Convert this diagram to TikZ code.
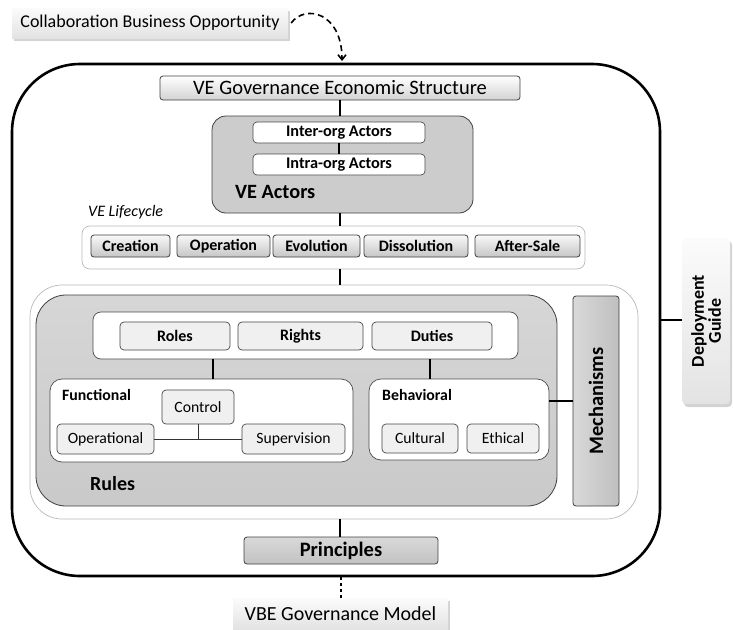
\documentclass[tikz,border=0pt]{standalone}
\usepackage{fontspec}
\setmainfont{Carlito}
\usetikzlibrary{shadows,arrows.meta}

\begin{document}
\begin{tikzpicture}
  [x=1pt,y=-1pt]
      \tikzstyle{box_style} = [draw=gray!50!black, line width=0.8, inner sep=0, rounded corners=3]
      \tikzstyle{gray_box} = [box_style, top color=gray!30, bottom color=gray!48]
      \tikzstyle{phase_box} = [box_style, top color=gray!5, bottom color=gray!45, font=\fontsize{16}{18}\selectfont\bfseries]
      \tikzstyle{white_box} = [draw=gray!60!black, line width=0.7, fill=white, inner sep=0]
      \tikzstyle{item_box} = [draw=gray!55!black, line width=0.7, fill=gray!12, inner sep=0, rounded corners=4, font=\fontsize{15.7}{17}\selectfont]
      \tikzstyle{note_box} = [inner sep=0, top color=gray!3, bottom color=gray!22, drop shadow={opacity=0.35, shadow xshift=2pt, shadow yshift=-3pt}]
      \tikzstyle{edge_style} = [draw=black, line width=1.4]
  \useasboundingbox (0,0) rectangle (733,629);

  % outer frame
  \node[draw=black, line width=2.6, rounded corners=68, minimum width=648, minimum height=512] (frame) at (336,320) {};

  % top and bottom notes
  \node[note_box, minimum width=276, minimum height=30, font=\fontsize{18}{20}\selectfont] (cbo) at (150,23) {Collaboration Business Opportunity};
  \node[note_box, minimum width=215, minimum height=31, font=\fontsize{20}{22}\selectfont] (vbe) at (340.5,613.5) {VBE Governance Model};
  \node[note_box, minimum width=48, minimum height=166, rounded corners=4] (deploy) at (706,321) {};
  \node[rotate=90, align=center, font=\fontsize{18}{17}\selectfont\bfseries] (deploytext) at (deploy.center) {Deployment\\Guide};

  \node[box_style, top color=white, bottom color=gray!35, minimum width=360, minimum height=24, font=\fontsize{20.5}{22}\selectfont] (veges) at (340,88) {VE Governance Economic Structure};

  % actors
  \node[box_style, fill=gray!40, rounded corners=14, minimum width=261, minimum height=97] (actors) at (342.5,164.5) {};
  \node[white_box, rounded corners=4, minimum width=172, minimum height=21, font=\fontsize{16.3}{18}\selectfont\bfseries] (inter) at (339,132.5) {Inter-org Actors};
  \node[white_box, rounded corners=4, minimum width=172, minimum height=21, font=\fontsize{16.3}{18}\selectfont\bfseries] (intra) at (339,164.5) {Intra-org Actors};
  \node[anchor=west, inner sep=0, font=\fontsize{20.3}{22}\selectfont\bfseries] (actorslabel) at (235,192) {VE Actors};

  % lifecycle
  \node[anchor=west, inner sep=0, font=\fontsize{16}{18}\selectfont\itshape] (lifelabel) at (88,212) {VE Lifecycle};
  \node[white_box, draw=gray!55, rounded corners=8, minimum width=503, minimum height=43] (life) at (333.5,247.5) {};
  \node[phase_box, minimum width=79, minimum height=22] (creation) at (130.5,246) {Creation};
  \node[phase_box, minimum width=93, minimum height=22] (operation) at (223.5,246) {Operation};
  \node[phase_box, minimum width=87, minimum height=22] (evolution) at (316.5,246) {Evolution};
  \node[phase_box, minimum width=104, minimum height=22] (dissolution) at (416,246) {Dissolution};
  \node[phase_box, minimum width=105, minimum height=22] (aftersale) at (527.5,246) {After-Sale};

  % rules
  \node[white_box, draw=gray!55, rounded corners=32, minimum width=608, minimum height=234] (rulesouter) at (334,402) {};
  \node[box_style, top color=gray!32, bottom color=gray!42, rounded corners=30, minimum width=521, minimum height=211] (rules) at (296.5,400.5) {};
  \node[anchor=west, inner sep=0, font=\fontsize{20}{22}\selectfont\bfseries] (ruleslabel) at (90,484) {Rules};
  \node[white_box, rounded corners=8, minimum width=425, minimum height=47] (rrd) at (305.5,335.5) {};
  \node[item_box, minimum width=110, minimum height=28, font=\fontsize{16}{18}\selectfont\bfseries] (roles) at (175,336) {Roles};
  \node[item_box, minimum width=125, minimum height=28, font=\fontsize{16}{18}\selectfont\bfseries] (rights) at (300.5,336) {Rights};
  \node[item_box, minimum width=120, minimum height=28, font=\fontsize{16}{18}\selectfont\bfseries] (duties) at (432,336) {Duties};

  \node[white_box, rounded corners=12, minimum width=303, minimum height=83] (functional) at (201.5,420.5) {};
  \node[anchor=west, inner sep=0, font=\fontsize{15.8}{17}\selectfont\bfseries] (functionallabel) at (62,395) {Functional};
  \node[item_box, minimum width=72, minimum height=34] (control) at (198,407) {Control};
  \node[item_box, minimum width=97, minimum height=30] (operational) at (105.5,439) {Operational};
  \node[item_box, minimum width=103, minimum height=30] (supervision) at (293.5,439) {Supervision};

  \node[white_box, rounded corners=12, minimum width=180, minimum height=81] (behavioral) at (459,419.5) {};
  \node[anchor=west, inner sep=0, font=\fontsize{15.8}{17}\selectfont\bfseries] (behaviorallabel) at (382,395) {Behavioral};
  \node[item_box, minimum width=76, minimum height=29] (cultural) at (420,438.5) {Cultural};
  \node[item_box, minimum width=72, minimum height=29] (ethical) at (503,438.5) {Ethical};

  \node[box_style, left color=gray!30, right color=gray!50, minimum width=46, minimum height=210] (mech) at (596,401) {};
  \node[rotate=90, inner sep=0, font=\fontsize{20.5}{22}\selectfont\bfseries] (mechtext) at (mech.center) {Mechanisms};

  \node[gray_box, minimum width=194, minimum height=27, font=\fontsize{20.5}{22}\selectfont\bfseries] (principles) at (341,550.5) {Principles};

  % connectors
  \draw[edge_style] (veges.south) -- (veges.south |- actors.north);
  \draw[edge_style, line width=1.2] (inter.south) -- (intra.north);
  \draw[edge_style] ([xshift=-2.5pt]actors.south) -- ([xshift=-2.5pt]actors.south |- life.north);
  \draw[edge_style] ([xshift=6.5pt]life.south) -- ([xshift=6.5pt]life.south |- rulesouter.north);
  \draw[edge_style] ([xshift=11.5pt]functional.north) -- ([xshift=11.5pt]functional.north |- rrd.south);
  \draw[edge_style] ([xshift=-29pt]behavioral.north) -- ([xshift=-29pt]behavioral.north |- rrd.south);
  \draw[edge_style] (mech.west) -- (mech.west -| behavioral.east);
  \draw[draw=black!80, line width=0.8] (operational.east) -- (supervision.west);
  \draw[draw=black!80, line width=0.8] (control.south) -- (control.south |- supervision.west);
  \draw[edge_style] ([xshift=6pt]rulesouter.south) -- ([xshift=6pt]rulesouter.south |- principles.north);
  \draw[edge_style] (frame.east) -- (frame.east -| deploy.west);
  \draw[draw=black, line width=1.2, dashed] ([xshift=5pt]frame.south) -- ([xshift=5pt]frame.south |- vbe.north);
  \coordinate (entry) at (342,61);
  \draw[draw=black, line width=1.6, dash pattern=on 6pt off 4pt, -{Straight Barb[length=5pt,width=8pt]}] ([xshift=3pt]cbo.east) .. controls (305,4) and (342,12) .. (entry);
\end{tikzpicture}
\end{document}
